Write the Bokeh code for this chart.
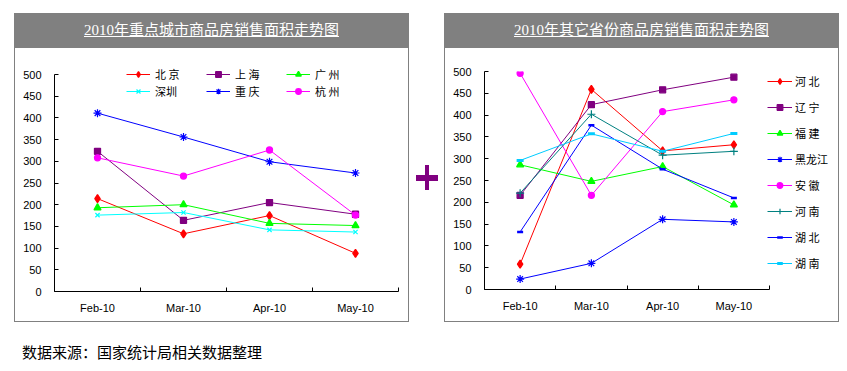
import numpy as np
from bokeh.plotting import figure
from bokeh.models import Range1d, FixedTicker, Legend, LegendItem, Div
from bokeh.layouts import row, column
from bokeh.embed import file_html
from bokeh.resources import INLINE

# ---------------- data ----------------
months = ["Feb-10", "Mar-10", "Apr-10", "May-10"]
y_ticks = [0, 50, 100, 150, 200, 250, 300, 350, 400, 450, 500]

left_title = "2010年重点城市商品房销售面积走势图"
right_title = "2010年其它省份商品房销售面积走势图"
source_note = "数据来源：国家统计局相关数据整理"

# key cities
beijing = [214, 133, 175, 88]
shanghai = [323, 164, 205, 178]
guangzhou = [193, 200, 157, 152]
shenzhen = [176, 182, 142, 137]
chongqing = [411, 356, 299, 273]
hangzhou = [308, 266, 326, 176]

# other provinces
hebei = [58, 459, 318, 332]
liaoning = [216, 424, 458, 487]
fujian = [286, 248, 282, 194]
heilongjiang = [24, 60, 161, 155]
anhui = [496, 216, 408, 435]
henan = [221, 402, 308, 317]
hubei = [132, 377, 276, 210]
hunan = [296, 357, 317, 358]

# (label, values, colour, marker, size, marker line width)
left_series = [
    ("北 京", beijing, "#FF0000", "diamond", 8, 1.3),
    ("上 海", shanghai, "#800080", "square", 6, 1.3),
    ("广 州", guangzhou, "#00FF00", "triangle", 7, 1.3),
    ("深圳", shenzhen, "#00FFFF", "x", 6, 1.2),
    ("重 庆", chongqing, "#0000FF", "asterisk", 8, 1.2),
    ("杭 州", hangzhou, "#FF00FF", "circle", 6, 1.3),
]
right_series = [
    ("河 北", hebei, "#FF0000", "diamond", 8, 1.3),
    ("辽 宁", liaoning, "#800080", "square", 6, 1.3),
    ("福 建", fujian, "#00FF00", "triangle", 7, 1.3),
    ("黑龙江", heilongjiang, "#0000FF", "asterisk", 8, 1.2),
    ("安 徽", anhui, "#FF00FF", "circle", 6, 1.3),
    ("河 南", henan, "#008080", "cross", 8, 1.2),
    ("湖 北", hubei, "#0000FF", "dash", 6, 2.5),
    ("湖 南", hunan, "#00CCFF", "dash", 7, 3),
]

GRAY = "#808080"
AXIS_FONT = "Liberation Sans"
CJK_FONT = "Noto Sans CJK SC"


def make_chart(series, mbl, mbr, mbt, mbb, x_extra_px=0, y_extra_px=0,
               axis_w=0, axis_h=0):
    n = len(months)
    # extend ranges beyond the axis bounds so that legends sit inside the frame
    x_end = n + (x_extra_px * n / axis_w if axis_w else 0)
    y_end = y_ticks[-1] + (y_extra_px * (y_ticks[-1] - y_ticks[0]) / axis_h if axis_h else 0)
    p = figure(width=393, height=273,
               x_range=Range1d(0, x_end),
               y_range=Range1d(y_ticks[0], y_end),
               output_backend="svg", toolbar_location=None,
               min_border_left=mbl, min_border_right=mbr,
               min_border_top=mbt, min_border_bottom=mbb,
               background_fill_color="white", border_fill_color="white")
    p.grid.visible = False
    p.outline_line_color = None

    xpos = np.arange(n) + 0.5

    xa = p.xaxis[0]
    xa.bounds = (0, n)
    xa.ticker = FixedTicker(ticks=[float(v) for v in xpos],
                            minor_ticks=list(range(n + 1)))
    xa.major_label_overrides = {float(v): m for v, m in zip(xpos, months)}
    xa.major_tick_in = 0
    xa.major_tick_out = 0
    xa.minor_tick_in = 4
    xa.minor_tick_out = 0
    xa.minor_tick_line_color = "black"
    xa.axis_line_color = "black"
    xa.axis_line_width = 1
    xa.major_label_standoff = 10
    xa.major_label_text_font = AXIS_FONT
    xa.major_label_text_font_size = "11px"
    xa.major_label_text_color = "black"

    ya = p.yaxis[0]
    ya.bounds = (y_ticks[0], y_ticks[-1])
    ya.ticker = FixedTicker(ticks=y_ticks, minor_ticks=[])
    ya.major_tick_in = 4
    ya.major_tick_out = 0
    ya.major_tick_line_color = "black"
    ya.minor_tick_line_color = None
    ya.axis_line_color = "black"
    ya.axis_line_width = 1
    ya.major_label_standoff = 13
    ya.major_label_text_font = AXIS_FONT
    ya.major_label_text_font_size = "11px"
    ya.major_label_text_color = "black"

    items = []
    for label, vals, color, marker, size, mlw in series:
        r1 = p.line(xpos, vals, line_color=color, line_width=1)
        r2 = p.scatter(xpos, vals, marker=marker, size=size,
                       fill_color=color, line_color=color, line_width=mlw)
        items.append(LegendItem(label=label, renderers=[r1, r2]))
    return p, items


def style_legend(lg):
    lg.label_text_font = CJK_FONT
    lg.label_text_font_size = "11px"
    lg.label_text_color = "black"
    lg.padding = 0
    lg.margin = 0
    lg.border_line_color = None
    lg.background_fill_alpha = 0
    lg.glyph_height = 14
    lg.label_height = 14


# left chart: axis area 344 x 217 px, frame extended 12 px upward for the legend
pl, litems = make_chart(left_series, 39, 10, 14, 30, y_extra_px=12, axis_h=217)
lg1 = Legend(items=litems[:3], orientation="horizontal", location=(72, 209))
lg2 = Legend(items=litems[3:], orientation="horizontal", location=(72, 192))
for lg in (lg1, lg2):
    style_legend(lg)
    lg.glyph_width = 24
    lg.label_standoff = 5
    lg.label_width = 45
    lg.spacing = 6
    pl.add_layout(lg, "center")

# right chart: axis area 285 x 218 px, frame extended 69 px to the right for the legend
pr, ritems = make_chart(right_series, 39, 0, 23, 32, x_extra_px=69, axis_w=285)
lg3 = Legend(items=ritems, orientation="vertical", location=(283, 18))
style_legend(lg3)
lg3.glyph_width = 25
lg3.label_standoff = 3
lg3.spacing = 10
pr.add_layout(lg3, "center")


def title_div(text):
    return Div(text=('<div style="width:395px;height:35px;line-height:34px;'
                     'text-align:center;color:white;font-size:15px;'
                     "font-family:'Liberation Serif','Noto Sans CJK SC';"
                     'text-decoration:underline;">' + text + '</div>'),
               width=395, height=35, margin=0,
               styles={"background-color": GRAY})


def vline():
    return Div(text="", width=1, height=274, margin=0,
               styles={"background-color": GRAY})


def hline():
    return Div(text="", width=393, height=1, margin=0,
               styles={"background-color": GRAY})


def panel(title, fig):
    return column(title_div(title),
                  row(vline(), column(fig, hline(), spacing=0), vline(), spacing=0),
                  spacing=0)


plus = Div(text=('<div style="position:relative;width:35px;height:309px;">'
                 '<div style="position:absolute;left:7px;top:162px;width:22px;height:6px;background:#800080;"></div>'
                 '<div style="position:absolute;left:16px;top:152px;width:4px;height:25px;background:#800080;"></div>'
                 '</div>'),
           width=35, height=309, margin=0)

footer = Div(text=('<div style="padding-left:22px;padding-top:21px;font-size:15px;'
                   "font-family:'Noto Sans CJK SC';line-height:18px;color:#000;\">"
                   + source_note + '</div>'),
             width=839, height=40, margin=0)

top_gap = Div(text="", width=839, height=13, margin=0)
left_gap = Div(text="", width=14, height=309, margin=0)

root = column(top_gap,
              row(left_gap, panel(left_title, pl), plus, panel(right_title, pr), spacing=0),
              footer, spacing=0)

open("out.html", "w").write(file_html(root, INLINE))
